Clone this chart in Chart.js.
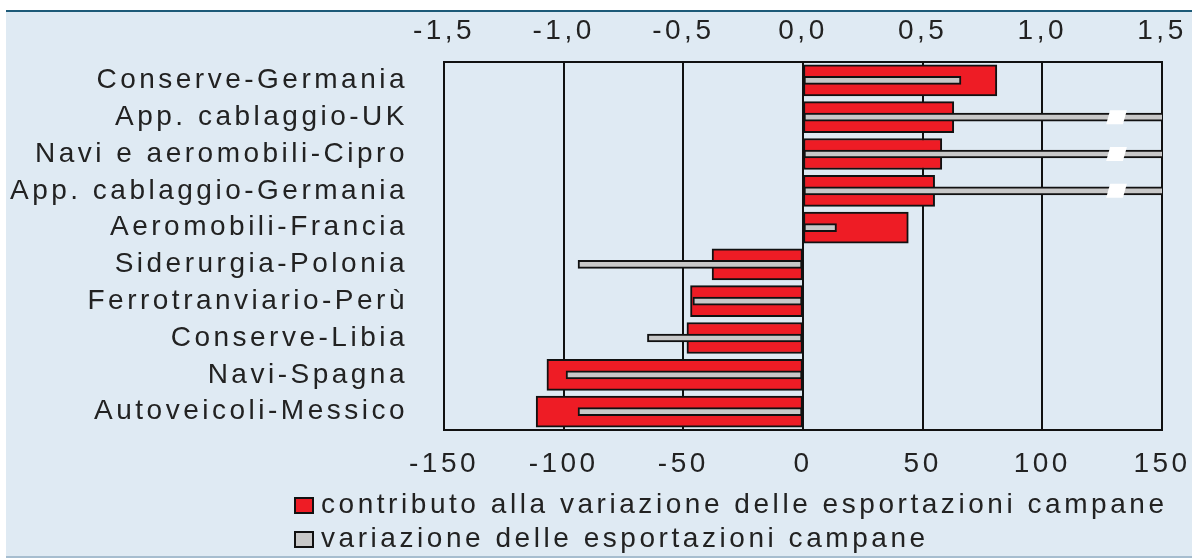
<!DOCTYPE html>
<html lang="it">
<head>
  <meta charset="UTF-8">
  <title>Contributo alla variazione delle esportazioni campane</title>
  <script src="https://cdn.jsdelivr.net/npm/chart.js"></script>
  <style>
    body { margin: 0; background: #fff; font-family: "Liberation Sans", Arial, sans-serif; }
    #frame { position: relative; width: 1192px; height: 558px; overflow: hidden; }
    #panel {
      position: absolute; left: 6px; top: 10px; width: 1186px; height: 544px;
      background: #dfeaf3; border-top: 2px solid #1d5a78; border-bottom: 2px solid #a6bdcf;
    }
    #chart { position: absolute; left: 0; top: 0; }
    #legend { position: absolute; left: 294px; top: 487px; color: #222; font-size: 28px; letter-spacing: 3.55px; }
    #legend div { height: 34px; line-height: 34px; white-space: nowrap; }
    #legend span.box {
      display: inline-block; width: 16px; height: 13px; border: 2px solid #111;
      margin-right: 7px; vertical-align: -1px;
    }
  </style>
</head>
<body>
<div id="frame">
  <div id="panel"></div>
  <canvas id="chart" width="1192" height="558"></canvas>
  <div id="legend"></div>
</div>

<script>
  const categories = [
    'Conserve-Germania', 'App. cablaggio-UK', 'Navi e aeromobili-Cipro',
    'App. cablaggio-Germania', 'Aeromobili-Francia', 'Siderurgia-Polonia',
    'Ferrotranviario-Perù', 'Conserve-Libia', 'Navi-Spagna', 'Autoveicoli-Messico'
  ];
  // top axis (punti percentuali)
  const contributo = [0.81, 0.63, 0.58, 0.55, 0.44, -0.38, -0.47, -0.485, -1.07, -1.115];
  // bottom axis (%); the three values over 150 are off scale and drawn broken
  const variazione = [66, 160, 160, 160, 14, -94, -46, -65, -99, -94];
  const seriesLabels = [
    'contributo alla variazione delle esportazioni campane',
    'variazione delle esportazioni campane'
  ];
  const topTicks = [-1.5, -1.0, -0.5, 0, 0.5, 1.0, 1.5];
  const bottomTicks = [-150, -100, -50, 0, 50, 100, 150];

  const red = '#ee1c25', grey = '#c8c8c8', ink = '#222';
  const font = { family: '"Liberation Sans", Arial, sans-serif', size: 28 };

  // the reference text is set wide, so space the letters out a bit
  const spacing = {
    id: 'spacing',
    beforeLayout(chart) { chart.ctx.letterSpacing = '3.5px'; },
    beforeDraw(chart) { chart.ctx.letterSpacing = '3.5px'; }
  };

  // white gap on the bars that run past the end of the scale
  const axisBreak = {
    id: 'axisBreak',
    afterDatasetsDraw(chart) {
      const x = chart.scales.x;
      const meta = chart.getDatasetMeta(1);
      const ctx = chart.ctx;
      const x0 = x.getPixelForValue(127.5), x1 = x.getPixelForValue(134.5);
      ctx.save();
      ctx.fillStyle = '#fff';
      meta.data.forEach((bar, i) => {
        if (variazione[i] <= x.max) return;
        const h = bar.height / 2 + 3;
        ctx.beginPath();
        ctx.moveTo(x0 + 2, bar.y - h);
        ctx.lineTo(x1 + 2, bar.y - h);
        ctx.lineTo(x1 - 2, bar.y + h);
        ctx.lineTo(x0 - 2, bar.y + h);
        ctx.closePath();
        ctx.fill();
      });
      ctx.restore();
    }
  };

  const comma = v => v.toFixed(1).replace('.', ',');
  const noSidePad = s => { s.paddingLeft = 0; s.paddingRight = 0; };

  new Chart(document.getElementById('chart'), {
    type: 'bar',
    data: {
      labels: categories,
      datasets: [{
        label: seriesLabels[0],
        data: contributo,
        xAxisID: 'x2',
        backgroundColor: red,
        borderColor: '#111',
        borderWidth: 2,
        borderSkipped: false,
        barThickness: 31,
        order: 1
      }, {
        label: seriesLabels[1],
        data: variazione,
        xAxisID: 'x',
        backgroundColor: grey,
        borderColor: '#111',
        borderWidth: 2,
        borderSkipped: false,
        barThickness: 8,
        order: 0
      }]
    },
    options: {
      indexAxis: 'y',
      responsive: false,
      animation: false,
      grouped: false,
      layout: { padding: { left: 0, right: 30, top: 12, bottom: 78 } },
      plugins: { legend: { display: false }, tooltip: { enabled: false } },
      scales: {
        y: {
          grid: { display: false },
          border: { display: true, color: '#111', width: 2 },
          ticks: { color: ink, font: font, padding: 28 },
          afterFit: s => { s.width = 444; }
        },
        x: {
          position: 'bottom',
          min: -150, max: 150,
          grid: { color: '#111', lineWidth: 2, drawTicks: false },
          border: { color: '#111', width: 2 },
          ticks: { color: ink, font: font, padding: 17 },
          afterBuildTicks: s => { s.ticks = bottomTicks.map(v => ({ value: v })); },
          afterFit: s => { s.height = 50; noSidePad(s); }
        },
        x2: {
          position: 'top',
          min: -1.5, max: 1.5,
          grid: { drawOnChartArea: false, drawTicks: false },
          border: { color: '#111', width: 2 },
          ticks: { color: ink, font: font, padding: 14, callback: v => comma(v) },
          afterBuildTicks: s => { s.ticks = topTicks.map(v => ({ value: v })); },
          afterFit: s => { s.height = 50; noSidePad(s); }
        }
      }
    },
    plugins: [spacing, axisBreak]
  });

  const legend = document.getElementById('legend');
  [red, grey].forEach((c, i) => {
    const row = document.createElement('div');
    const box = document.createElement('span');
    box.className = 'box';
    box.style.background = c;
    row.appendChild(box);
    row.appendChild(document.createTextNode(seriesLabels[i]));
    legend.appendChild(row);
  });
</script>
</body>
</html>
